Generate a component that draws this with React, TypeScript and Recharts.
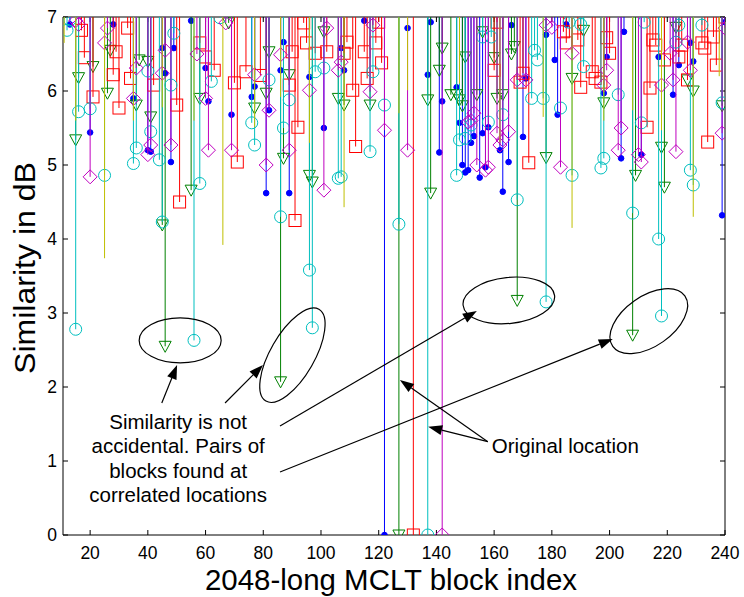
import React from "react";
import { ScatterChart, Scatter, XAxis, YAxis } from "recharts";

const W = 744;
const H = 597;
// plot box: left 63, top 17, right 725, bottom 535
const PLOT = { left: 63, top: 17, right: 725, bottom: 535 };
const AX = { left: 40, bottom: 40, top: 2, right: 2 };
const M = {
  top: PLOT.top - AX.top,
  right: W - PLOT.right - AX.right,
  bottom: H - PLOT.bottom - AX.bottom,
  left: PLOT.left - AX.left,
};
const X_DOMAIN: [number, number] = [10.6, 240];
const Y_DOMAIN: [number, number] = [0, 7];
const xTicks = [20, 40, 60, 80, 100, 120, 140, 160, 180, 200, 220, 240];
const yTicks = [0, 1, 2, 3, 4, 5, 6, 7];
const FONT = "Arial, 'Liberation Sans', Helvetica, sans-serif";

// [block index, similarity dB]
const blueDots: [number, number][] = [
  [13, 6.9], [20, 5.44], [28, 6.9], [35, 5.9], [40, 5.2], [41, 5.18], [45, 6.58], [46, 6.24],
  [48, 5.04], [49, 6.58], [55, 6.95], [60, 6.31], [61, 5.86], [69, 5.68], [76, 5.92], [77, 6.06],
  [81, 4.62], [82, 5.74], [86, 6.28], [87, 6.66], [89, 4.62], [96, 6.19], [101, 5.5], [107, 6.58],
  [108, 6.28], [115, 6.95], [122, 0], [130, 6.85], [137, 6.22], [138, 6.93], [141, 5.17], [142, 5.86],
  [147, 6.05], [148, 5.57], [149, 5.0], [150, 4.9], [151, 4.93], [152, 5.3], [153, 5.39], [155, 4.83],
  [156, 5.43], [157, 4.97], [158, 5.51], [162, 5.2], [163, 4.64], [165, 5.04], [166, 6.89], [170, 5.38],
  [171, 6.17], [178, 6.76], [181, 6.42], [182, 5.68], [185, 6.9], [198, 5.97], [199, 6.46], [204, 5.09],
  [205, 6.8], [211, 5.14], [217, 6.46], [222, 5.95], [224, 6.35], [228, 6.65], [229, 6.4], [239, 4.32],
  [240, 6.93],
];

const greenTriangles: [number, number][] = [
  [15, 5.34], [16, 6.18], [21, 6.33], [26, 5.97], [27, 6.55], [36, 5.81], [37, 6.42], [40, 6.4],
  [41, 5.65], [45, 4.19], [46, 2.55], [55, 4.66], [58, 5.9], [68, 6.92], [77, 5.77], [81, 5.97],
  [82, 6.53], [86, 2.07], [87, 5.09], [89, 6.22], [96, 4.86], [97, 4.77], [101, 6.8], [106, 5.9],
  [108, 5.81], [117, 5.81], [127, 0], [137, 5.88], [138, 4.62], [141, 6.28], [142, 6.58], [145, 5.95],
  [147, 5.95], [148, 5.88], [149, 5.8], [150, 6.46], [154, 5.95], [156, 6.8], [160, 6.45], [161, 5.9],
  [163, 5.95], [166, 6.5], [167, 6.6], [168, 3.17], [178, 5.1], [187, 6.17], [191, 6.82], [198, 5.84],
  [208, 2.7], [209, 4.86], [218, 5.24], [219, 4.7], [223, 6.86], [227, 6.15], [229, 6.0], [239, 5.8],
];

const redSquares: [number, number][] = [
  [17, 6.82], [18, 6.45], [21, 5.92], [28, 6.22], [29, 6.53], [30, 5.77], [33, 6.85], [34, 6.17],
  [42, 6.08], [50, 5.81], [51, 4.5], [58, 6.65], [60, 6.46], [63, 6.28], [70, 6.11], [71, 5.04],
  [74, 6.26], [79, 6.21], [89, 6.08], [90, 6.53], [91, 4.25], [92, 5.51], [94, 6.92], [95, 6.65],
  [98, 6.51], [102, 6.53], [108, 6.51], [109, 6.66], [111, 6.01], [112, 5.25], [115, 6.53], [116, 6.17],
  [119, 6.65], [120, 6.93], [121, 6.38], [132, 0], [160, 6.28], [161, 6.93], [169, 6.12], [170, 6.24],
  [172, 5.03], [184, 6.8], [185, 6.65], [189, 6.69], [190, 6.05], [194, 6.26], [195, 6.17], [197, 6.12],
  [199, 6.72], [200, 6.51], [213, 5.51], [214, 6.04], [215, 6.69], [216, 6.62], [219, 6.42], [224, 6.46],
  [225, 6.62], [227, 6.15], [232, 6.65], [233, 6.58], [234, 5.31], [236, 6.73], [237, 6.35], [240, 7.0],
];

const cyanCircles: [number, number][] = [
  [12, 6.82], [13, 6.96], [15, 2.78], [16, 5.72], [20, 5.76], [25, 4.86], [35, 5.02], [36, 5.23],
  [40, 6.27], [41, 5.45], [44, 5.07], [45, 4.23], [48, 6.08], [49, 6.78], [56, 2.63], [58, 4.75],
  [62, 6.13], [65, 6.99], [76, 5.57], [77, 5.27], [82, 6.15], [86, 4.3], [87, 5.5], [89, 5.88],
  [96, 3.58], [97, 2.8], [98, 6.26], [101, 6.31], [106, 4.82], [107, 4.84], [117, 5.18], [118, 6.26],
  [122, 5.81], [127, 4.2], [137, 0], [147, 4.86], [148, 5.34], [150, 5.36], [152, 5.54], [156, 6.73],
  [158, 5.58], [159, 6.73], [163, 5.68], [168, 4.53], [173, 5.9], [174, 6.55], [175, 6.42], [177, 5.9],
  [178, 3.15], [183, 5.77], [186, 6.93], [187, 4.86], [190, 6.9], [191, 6.33], [197, 4.96], [198, 5.09],
  [203, 5.95], [208, 4.35], [211, 5.57], [212, 6.93], [217, 4.0], [218, 2.96], [223, 6.66], [224, 6.89],
  [228, 4.93], [229, 4.73], [232, 6.89], [239, 5.84],
];

const magentaDiamonds: [number, number][] = [
  [15, 6.95], [16, 6.9], [20, 4.84], [25, 6.65], [26, 6.85], [35, 5.9], [36, 6.31], [40, 5.14],
  [41, 5.27], [45, 6.24], [46, 6.55], [48, 5.27], [57, 6.5], [60, 5.9], [61, 5.2], [67, 6.92],
  [69, 5.2], [77, 6.22], [81, 5.0], [82, 5.74], [86, 6.49], [89, 5.2], [96, 6.01], [101, 4.66],
  [102, 6.85], [106, 6.28], [107, 6.39], [117, 5.99], [118, 6.89], [122, 5.47], [130, 5.2], [142, 0],
  [151, 5.58], [152, 5.6], [153, 5.7], [154, 5.0], [157, 4.93], [158, 4.97], [161, 5.43], [162, 5.27],
  [163, 5.34], [165, 5.45], [168, 6.15], [171, 6.15], [178, 6.89], [180, 6.86], [183, 4.97], [187, 6.51],
  [198, 6.08], [199, 6.28], [203, 5.2], [204, 5.5], [210, 5.14], [211, 5.04], [218, 6.08], [221, 6.51],
  [222, 6.15], [223, 5.18], [227, 6.66], [228, 6.28], [239, 5.43], [240, 6.85],
];

const yellowLines: [number, number][] = [
  [11, 6.65], [15, 5.6], [25, 3.74], [35, 5.6], [45, 5.78], [56, 5.6], [66, 3.92], [77, 5.51],
  [86, 5.92], [96, 5.3], [108, 4.43], [127, 5.7], [130, 6.01], [148, 6.1], [162, 5.3], [177, 5.65],
  [187, 4.15], [198, 5.6], [208, 5.74], [218, 5.47], [229, 4.3], [238, 6.2],
];

const series = [
  { name: "blue", data: blueDots, color: "#0000ff", marker: "dot" },
  { name: "green", data: greenTriangles, color: "#008000", marker: "triangle" },
  { name: "red", data: redSquares, color: "#ff0000", marker: "square" },
  { name: "cyan", data: cyanCircles, color: "#00bfbf", marker: "circle" },
  { name: "magenta", data: magentaDiamonds, color: "#bf00bf", marker: "diamond" },
  { name: "yellow", data: yellowLines, color: "#bfbf00", marker: "none" },
];

// annotation geometry in data units
const ellipses = [
  { x: 51.2, y: 2.63, rx: 41, ry: 22.5, rot: 0 },
  { x: 90.1, y: 2.43, rx: 53, ry: 22, rot: -60 },
  { x: 165.1, y: 3.17, rx: 46, ry: 23, rot: -6 },
  { x: 213.6, y: 2.89, rx: 44, ry: 25, rot: -35 },
];
const arrows = [
  { from: [44.83, 1.784], to: [50.13, 2.297] },
  { from: [66.75, 1.784], to: [79.9, 2.297] },
  { from: [85.8, 1.473], to: [154.0, 3.027] },
  { from: [85.8, 0.851], to: [201.1, 2.649] },
  { from: [157.8, 1.261], to: [127.35, 2.095] },
  { from: [157.8, 1.261], to: [137.15, 1.464] },
];
const noteLines = ["Similarity is not", "accidental. Pairs of", "blocks found at", "correlated locations"];
const noteYs = [1.531, 1.207, 0.878, 0.55];

const PW = PLOT.right - PLOT.left;
const PH = PLOT.bottom - PLOT.top;
const sx = (x: number) => PLOT.left + ((x - X_DOMAIN[0]) / (X_DOMAIN[1] - X_DOMAIN[0])) * PW;
const sy = (y: number) => PLOT.top + ((Y_DOMAIN[1] - y) / (Y_DOMAIN[1] - Y_DOMAIN[0])) * PH;

function renderMarker(kind: string, cx: number, cy: number, color: string) {
  switch (kind) {
    case "dot":
      return <circle cx={cx} cy={cy} r={2.8} fill={color} stroke={color} />;
    case "triangle":
      return (
        <polygon
          points={`${cx - 6},${cy - 5} ${cx + 6},${cy - 5} ${cx},${cy + 6}`}
          fill="none"
          stroke={color}
        />
      );
    case "square":
      return <rect x={cx - 6} y={cy - 6} width={12} height={12} fill="none" stroke={color} />;
    case "circle":
      return <circle cx={cx} cy={cy} r={6} fill="none" stroke={color} />;
    case "diamond":
      return (
        <polygon
          points={`${cx},${cy - 7} ${cx + 7},${cy} ${cx},${cy + 7} ${cx - 7},${cy}`}
          fill="none"
          stroke={color}
        />
      );
    default:
      return null;
  }
}

const makeStem = (color: string, marker: string) => (p: any) => {
  const { cx, cy } = p;
  if (cx == null || cy == null) return <g />;
  return (
    <g>
      <line x1={cx} y1={PLOT.top} x2={cx} y2={cy} stroke={color} strokeWidth={1} />
      {renderMarker(marker, cx, cy, color)}
    </g>
  );
};

function Arrow({ from, to }: { from: number[]; to: number[] }) {
  const x1 = sx(from[0]);
  const y1 = sy(from[1]);
  const x2 = sx(to[0]);
  const y2 = sy(to[1]);
  const len = Math.hypot(x2 - x1, y2 - y1);
  const ux = (x2 - x1) / len;
  const uy = (y2 - y1) / len;
  const hl = 14;
  const hw = 5;
  const bx = x2 - ux * hl;
  const by = y2 - uy * hl;
  return (
    <g>
      <line x1={x1} y1={y1} x2={bx} y2={by} stroke="#000" strokeWidth={1.2} />
      <polygon
        points={`${x2},${y2} ${bx - uy * hw},${by + ux * hw} ${bx + uy * hw},${by - ux * hw}`}
        fill="#000"
      />
    </g>
  );
}

function Annotations() {
  return (
    <svg
      width={W}
      height={H}
      style={{ position: "absolute", left: 0, top: 0, pointerEvents: "none" }}
    >
      {ellipses.map((e, i) => (
        <ellipse
          key={i}
          cx={0}
          cy={0}
          rx={e.rx}
          ry={e.ry}
          fill="none"
          stroke="#000"
          strokeWidth={1.2}
          transform={`translate(${sx(e.x)},${sy(e.y)}) rotate(${e.rot})`}
        />
      ))}
      {arrows.map((a, i) => (
        <Arrow key={i} from={a.from} to={a.to} />
      ))}
      {noteLines.map((t, i) => (
        <text
          key={i}
          x={sx(50.5)}
          y={sy(noteYs[i])}
          textAnchor="middle"
          dominantBaseline="central"
          fontFamily={FONT}
          fontSize={20.5}
          fill="#000"
        >
          {t}
        </text>
      ))}
      <text
        x={sx(159.2)}
        y={sy(1.216)}
        dominantBaseline="central"
        fontFamily={FONT}
        fontSize={20.5}
        fill="#000"
      >
        Original location
      </text>
      <text
        transform={`translate(25,268) rotate(-90)`}
        textAnchor="middle"
        dominantBaseline="central"
        fontFamily={FONT}
        fontSize={29}
        textLength={212}
        lengthAdjust="spacingAndGlyphs"
        fill="#000"
      >
        Similarity in dB
      </text>
      <text
        x={391}
        y={580}
        textAnchor="middle"
        dominantBaseline="central"
        fontFamily={FONT}
        fontSize={29}
        textLength={372}
        lengthAdjust="spacingAndGlyphs"
        fill="#000"
      >
        2048-long MCLT block index
      </text>
    </svg>
  );
}

export default function App() {
  const tickStyle = { fill: "#000", fontSize: 17.5, fontFamily: FONT };
  return (
    <div style={{ position: "absolute", left: 0, top: 0, width: W, height: H, background: "#fff" }}>
      <ScatterChart width={W} height={H} margin={M}>
        <XAxis
          type="number"
          dataKey="x"
          domain={X_DOMAIN}
          ticks={xTicks}
          allowDataOverflow
          height={AX.bottom}
          tickSize={-5}
          tickMargin={17}
          stroke="#000"
          tick={tickStyle}
        />
        <XAxis
          xAxisId="top"
          orientation="top"
          type="number"
          dataKey="x"
          domain={X_DOMAIN}
          ticks={xTicks}
          allowDataOverflow
          height={AX.top}
          tickSize={-5}
          tickFormatter={() => ""}
          stroke="#000"
        />
        <YAxis
          type="number"
          dataKey="y"
          domain={Y_DOMAIN}
          ticks={yTicks}
          allowDataOverflow
          width={AX.left}
          tickSize={-5}
          tickMargin={11}
          stroke="#000"
          tick={tickStyle}
        />
        <YAxis
          yAxisId="right"
          orientation="right"
          type="number"
          dataKey="y"
          domain={Y_DOMAIN}
          ticks={yTicks}
          allowDataOverflow
          width={AX.right}
          tickSize={-5}
          tickFormatter={() => ""}
          stroke="#000"
        />
        {series.map((s) => (
          <Scatter
            key={s.name}
            name={s.name}
            data={s.data.map(([x, y]) => ({ x, y }))}
            shape={makeStem(s.color, s.marker)}
            isAnimationActive={false}
          />
        ))}
      </ScatterChart>
      <Annotations />
    </div>
  );
}
